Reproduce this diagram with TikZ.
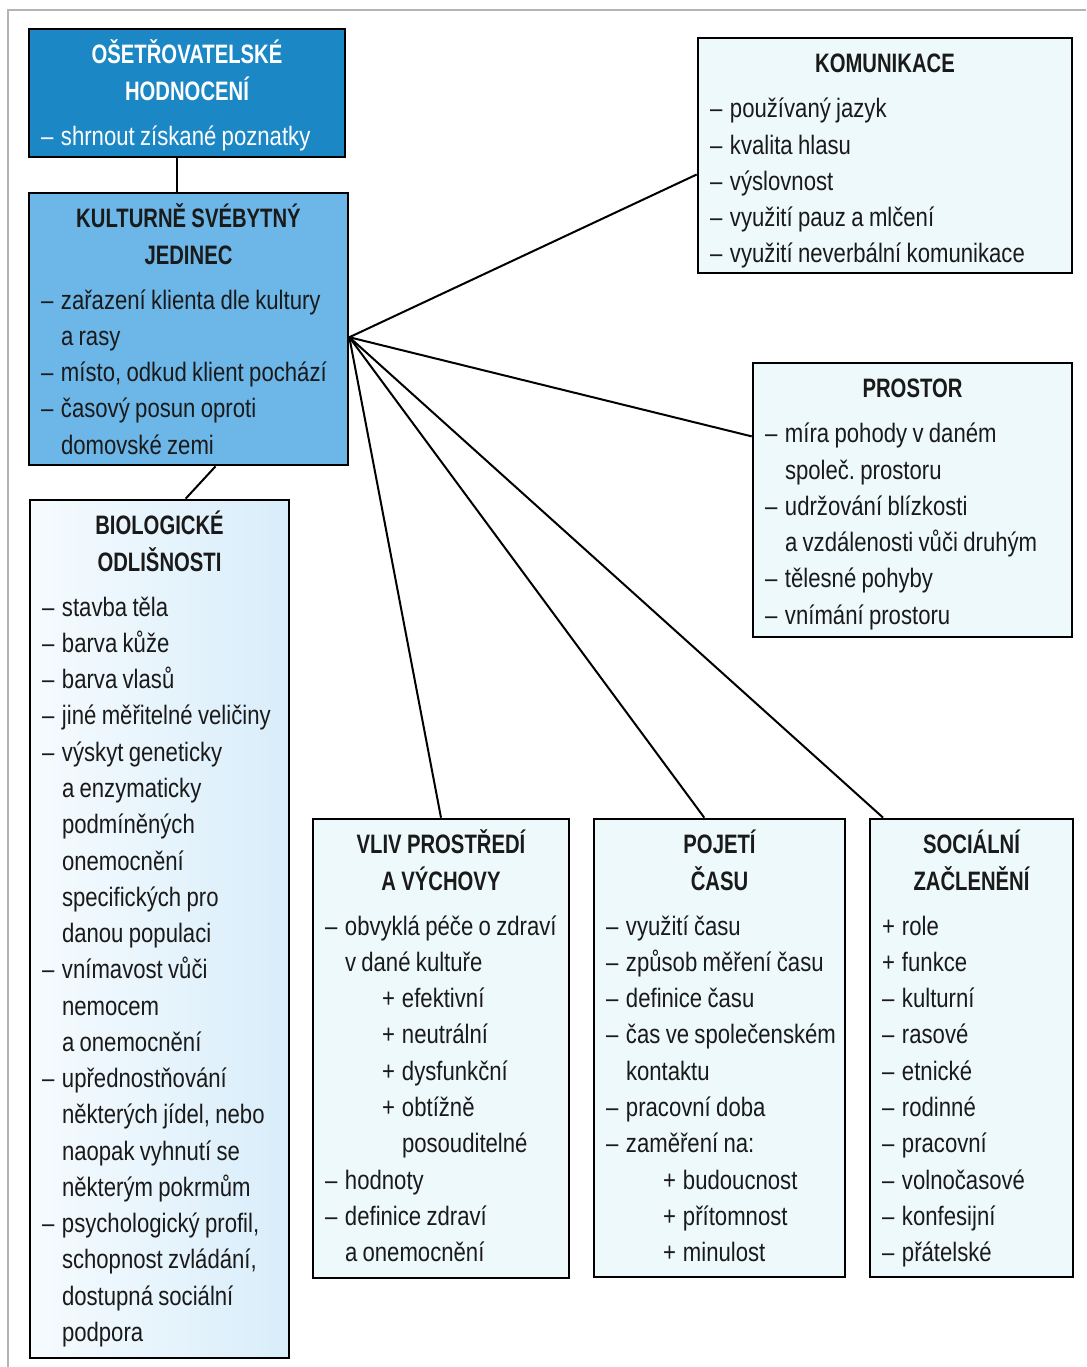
\documentclass[tikz,border=0pt]{standalone}
\usepackage{fontspec}
\setmainfont{Liberation Sans}[FakeStretch=0.83, BoldFeatures={FakeStretch=0.76}]
\usetikzlibrary{fit,calc}
\definecolor{dblue}{HTML}{1B87C5}
\definecolor{mblue}{HTML}{6CB6E8}
\definecolor{pale}{HTML}{EEF9FC}
\definecolor{biol}{HTML}{F6FBFE}
\definecolor{bior}{HTML}{D8EDFA}
\definecolor{framegray}{HTML}{B4B4B4}
\definecolor{ink}{HTML}{1A1A1A}
\newlength\dw \setlength\dw{15pt}
\newlength\pw \setlength\pw{42.75pt}
\newcommand\tsp{\frenchspacing\spaceskip=4pt plus 0pt minus 0pt\relax}
\newcommand\dl[1]{\par\noindent\mbox{\makebox[\dw][l]{–}#1}}
\newcommand\cl[1]{\par\noindent\mbox{\hspace*{\dw}#1}}
\newcommand\pl[1]{\par\noindent\mbox{\hspace*{\pw}\makebox[\dw][l]{+}#1}}
\newcommand\pc[1]{\par\noindent\mbox{\hspace*{\pw}\hspace*{\dw}#1}}
\newcommand\pz[1]{\par\noindent\mbox{\makebox[\dw][l]{+}#1}}
\newcommand\ttl[1]{\tsp{\centering\bfseries\rule{0pt}{24pt}#1\par}\vspace{6.5pt}}
\tikzset{
  box/.style={draw=black, line width=2pt, inner sep=0pt},
  txt/.style={anchor=north, inner sep=0pt, align=left, text=ink,
    font=\fontsize{20}{27.2}\selectfont},
  link/.style={draw=black, line width=1.5pt},
}
\begin{document}
\begin{tikzpicture}[x=0.75pt,y=-0.75pt]
\useasboundingbox (0,0) rectangle (1086,1367);
% outer frame (open at right and bottom)
\coordinate (frtr) at (1086,10);
\coordinate (frtl) at (8,10);
\coordinate (frbl) at (8,1367);
\draw[framegray, line width=1.5pt] (frtr) -- (frtl) -- (frbl);

% boxes
\node[box, fill=dblue, fit={(29,29) (345,157)}] (osh) {};
\node[box, fill=mblue, fit={(29,193) (348,465)}] (kult) {};
\node[box, left color=biol, right color=bior, fit={(30,500) (289,1358)}] (bio) {};
\node[box, fill=pale, fit={(698,38) (1072,273)}] (kom) {};
\node[box, fill=pale, fit={(753,363) (1072,637)}] (pros) {};
\node[box, fill=pale, fit={(313,819) (569,1278)}] (vliv) {};
\node[box, fill=pale, fit={(594,819) (845,1277)}] (poj) {};
\node[box, fill=pale, fit={(870,819) (1073,1277)}] (soc) {};

% texts
\node[txt, text=white, text width=219pt] (osh-t) at ($(osh.north)+(0,4)$) {%
\ttl{OŠETŘOVATELSKÉ\\HODNOCENÍ}%
\dl{shrnout získané poznatky}};

\node[txt, text width=221.25pt] (kult-t) at ($(kult.north)+(0,4)$) {%
\ttl{KULTURNĚ SVÉBYTNÝ\\JEDINEC}%
\dl{zařazení klienta dle kultury}\cl{a rasy}%
\dl{místo, odkud klient pochází}%
\dl{časový posun oproti}\cl{domovské zemi}};

\node[txt, text width=176.25pt] (bio-t) at ($(bio.north)+(0,4)$) {%
\ttl{BIOLOGICKÉ\\ODLIŠNOSTI}%
\dl{stavba těla}\dl{barva kůže}\dl{barva vlasů}\dl{jiné měřitelné veličiny}%
\dl{výskyt geneticky}\cl{a enzymaticky}\cl{podmíněných}\cl{onemocnění}%
\cl{specifických pro}\cl{danou populaci}%
\dl{vnímavost vůči}\cl{nemocem}\cl{a onemocnění}%
\dl{upřednostňování}\cl{některých jídel, nebo}\cl{naopak vyhnutí se}\cl{některým pokrmům}%
\dl{psychologický profil,}\cl{schopnost zvládání,}\cl{dostupná sociální}\cl{podpora}};

\node[txt, text width=262.5pt] (kom-t) at ($(kom.north)+(0,4)$) {%
\ttl{KOMUNIKACE}%
\dl{používaný jazyk}\dl{kvalita hlasu}\dl{výslovnost}%
\dl{využití pauz a mlčení}\dl{využití neverbální komunikace}};

\node[txt, text width=221.25pt] (pros-t) at ($(pros.north)+(0,4)$) {%
\ttl{PROSTOR}%
\dl{míra pohody v daném}\cl{společ. prostoru}%
\dl{udržování blízkosti}\cl{a vzdálenosti vůči druhým}%
\dl{tělesné pohyby}\dl{vnímání prostoru}};

\node[txt, text width=174pt] (vliv-t) at ($(vliv.north)+(0,4)$) {%
\ttl{VLIV PROSTŘEDÍ\\A VÝCHOVY}%
\dl{obvyklá péče o zdraví}\cl{v dané kultuře}%
\pl{efektivní}\pl{neutrální}\pl{dysfunkční}\pl{obtížně}\pc{posouditelné}%
\dl{hodnoty}\dl{definice zdraví}\cl{a onemocnění}};

\node[txt, text width=170.25pt] (poj-t) at ($(poj.north)+(0,4)$) {%
\ttl{POJETÍ\\ČASU}%
\dl{využití času}\dl{způsob měření času}\dl{definice času}%
\dl{čas ve společenském}\cl{kontaktu}\dl{pracovní doba}\dl{zaměření na:}%
\pl{budoucnost}\pl{přítomnost}\pl{minulost}};

\node[txt, text width=134.25pt] (soc-t) at ($(soc.north)+(0,4)$) {%
\ttl{SOCIÁLNÍ\\ZAČLENĚNÍ}%
\pz{role}\pz{funkce}\dl{kulturní}\dl{rasové}\dl{etnické}\dl{rodinné}%
\dl{pracovní}\dl{volnočasové}\dl{konfesijní}\dl{přátelské}};

% connectors
\coordinate (oshb) at ($(osh.south west)!0.47!(osh.south east)$);
\draw[link] (oshb) -- (oshb |- kult.north);
\coordinate (kultb) at ($(kult.south west)!0.584!(kult.south east)$);
\coordinate (biot) at ($(bio.north west)!0.6!(bio.north east)$);
\draw[link] (kultb) -- (biot);
\coordinate (hub) at ($(kult.north east)!0.53!(kult.south east)$);
\coordinate (komw) at ($(kom.north west)!0.58!(kom.south west)$);
\coordinate (prosw) at ($(pros.north west)!0.27!(pros.south west)$);
\coordinate (pojn) at ($(poj.north west)!0.44!(poj.north east)$);
\coordinate (socn) at ($(soc.north west)!0.07!(soc.north east)$);
\draw[link] (hub) -- (komw);
\draw[link] (hub) -- (prosw);
\draw[link] (hub) -- (vliv.north);
\draw[link] (hub) -- (pojn);
\draw[link] (hub) -- (socn);
\end{tikzpicture}
\end{document}
